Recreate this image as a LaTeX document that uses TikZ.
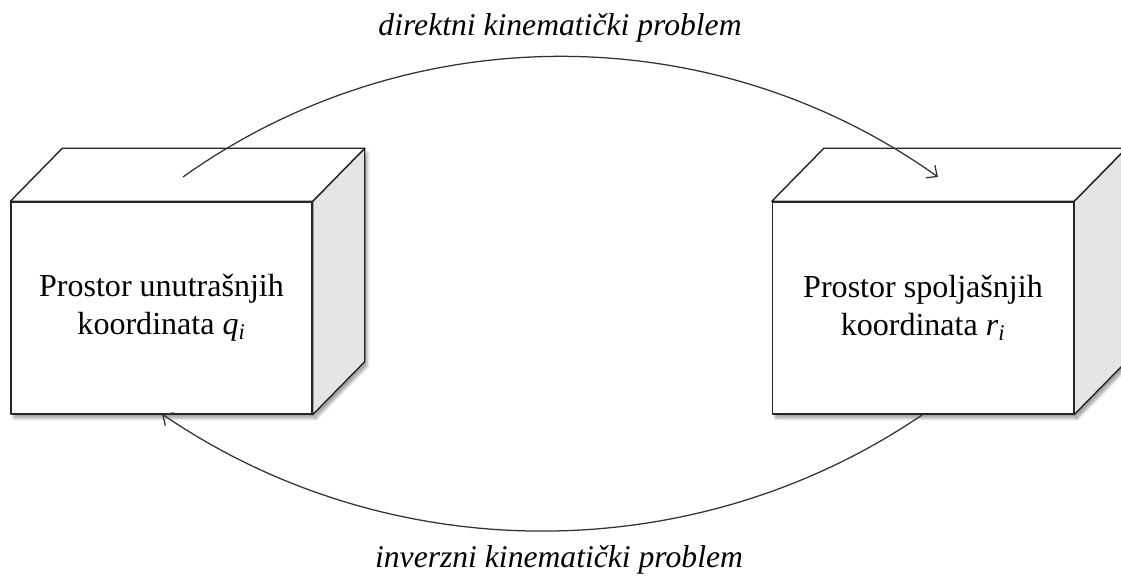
\documentclass[tikz,border=0pt]{standalone}
\usepackage{fontspec}
\setmainfont{Liberation Serif}
\usetikzlibrary{calc,arrows.meta,shadows.blur}

\begin{document}
\begin{tikzpicture}[scale=1,font=\fontsize{22.8}{27.4}\selectfont]

\useasboundingbox (0,0) rectangle (28.025,14.475);
\clip (0,0) rectangle (28.025,14.475);

\pgfmathsetmacro{\dx}{1.3}
\pgfmathsetmacro{\dy}{1.325}

\tikzset{
  faccia/.style={draw=black!85,line width=1pt,fill=white,line join=round,
    minimum width=7.525cm,minimum height=5.3cm,align=center,inner sep=0pt,
    blur shadow={shadow xshift=2pt,shadow yshift=-3pt,shadow opacity=35}},
  lato/.style={draw=black!85,line width=1pt,fill=black!10,line join=round,
    blur shadow={shadow xshift=2pt,shadow yshift=-3pt,shadow opacity=35}},
  sopra/.style={draw=black!85,line width=1pt,fill=white,line join=round},
  freccia/.style={draw=black!80,line width=0.9pt,-{Straight Barb[length=6pt,width=11pt]}},
  etichetta/.style={font=\fontsize{22.5}{27}\selectfont\itshape,anchor=base}
}

% cubo sinistro
\node[faccia] (unutr) at (4.0375,6.775) {Prostor unutrašnjih\\koordinata \textit{q\textsubscript{i}}};
\draw[lato] (unutr.north east) -- ++(\dx,\dy) -- ($(unutr.south east)+(\dx,\dy)$) -- (unutr.south east) -- cycle;
\draw[sopra] (unutr.north west) -- ++(\dx,\dy) -- ($(unutr.north east)+(\dx,\dy)$) -- (unutr.north east) -- cycle;

% cubo destro
\node[faccia] (spolj) at (23.075,6.775) {Prostor spoljašnjih\\koordinata \textit{r\textsubscript{i}}};
\draw[lato] (spolj.north east) -- ++(\dx,\dy) -- ($(spolj.south east)+(\dx,\dy)$) -- (spolj.south east) -- cycle;
\draw[sopra] (spolj.north west) -- ++(\dx,\dy) -- ($(spolj.north east)+(\dx,\dy)$) -- (spolj.north east) -- cycle;

% direktni
\coordinate (d1) at (4.575,10.05);
\coordinate (d2) at (23.45,10.05);
\draw[freccia] (d1) to[bend left=35.5,looseness=0.94] (d2);
\node[etichetta] (dkp) at (14.0,13.575) {direktni kinematički problem};

% inverzni
\coordinate (i1) at (23.05,4.1);
\coordinate (i2) at (4.05,4.125);
\draw[freccia] (i1) to[bend left=34.3,looseness=0.93] (i2);
\node[etichetta] (ikp) at (13.975,0.275) {inverzni kinematički problem};

\end{tikzpicture}
\end{document}
